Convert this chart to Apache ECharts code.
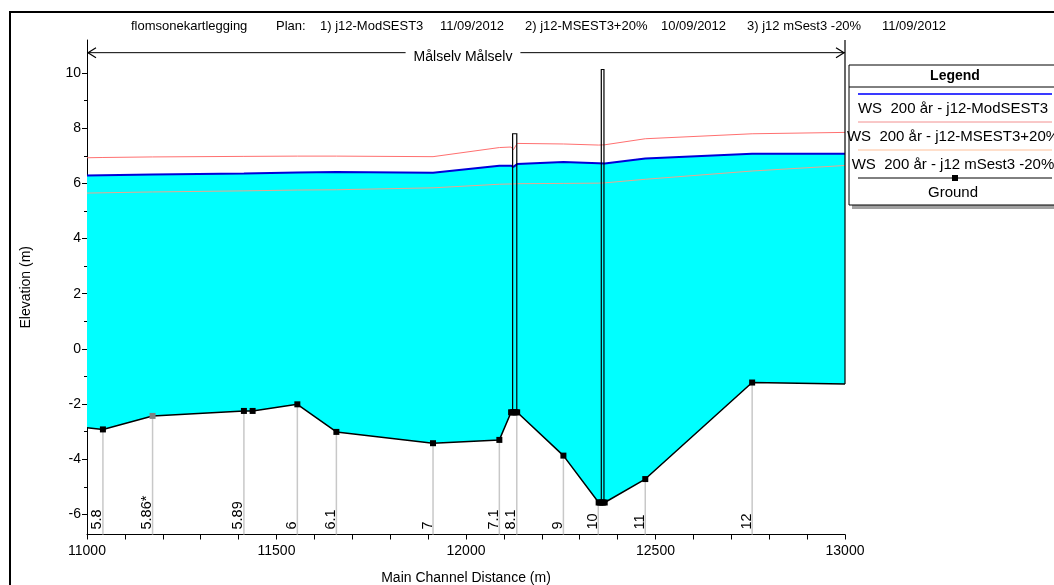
<!DOCTYPE html>
<html>
<head>
<meta charset="utf-8">
<script src="https://cdn.jsdelivr.net/npm/echarts@6/dist/echarts.min.js"></script>
<style>
  html, body { margin: 0; padding: 0; background: #fff; }
  #chart { width: 1054px; height: 585px; }
</style>
</head>
<body>
<div id="chart"></div>
<script>
// water surface, 200 yr, three plans (station m, elevation m)
const wsStation = [11000, 11042, 11173, 11414, 11555, 11658, 11913, 12088, 12119, 12125, 12135, 12257, 12350, 12366, 12473, 12755, 13000]
const wsBase = [6.29, 6.30, 6.32, 6.36, 6.40, 6.41, 6.39, 6.64, 6.64, 6.60, 6.70, 6.78, 6.73, 6.72, 6.90, 7.08, 7.08]
const wsPlus20 = [6.93, 6.94, 6.96, 6.98, 6.99, 6.99, 6.97, 7.30, 7.32, 7.22, 7.45, 7.43, 7.39, 7.40, 7.62, 7.80, 7.85]
const wsMinus20 = [5.65, 5.66, 5.69, 5.73, 5.76, 5.77, 5.84, 5.97, 5.98, 5.98, 5.99, 6.00, 6.01, 6.02, 6.15, 6.45, 6.65]

// channel bed
const groundStation = [11000, 11042, 11173, 11414, 11437, 11555, 11658, 11913, 12088, 12119, 12123, 12127, 12131, 12135, 12257, 12350, 12354, 12358, 12362, 12366, 12473, 12755, 13000]
const groundElev = [-2.86, -2.92, -2.43, -2.25, -2.25, -2.01, -3.01, -3.42, -3.30, -2.30, -2.30, -2.30, -2.30, -2.30, -3.87, -5.57, -5.57, -5.57, -5.57, -5.57, -4.72, -1.22, -1.27]

// cross sections
const sectionNames = ['5.8', '5.86*', '5.89', '6', '6.1', '7', '7.1', '8.1', '9', '10', '11', '12']
const sectionStations = [11042, 11173, 11414, 11555, 11658, 11913, 12088, 12134, 12257, 12349, 12473, 12755]

// bridges
const bridgeLeft = [12123, 12357]
const bridgeRight = [12134, 12364]
const bridgeLow = [-2.30, -5.57]
const bridgeTop = [7.8, 10.13]

// axis ticks
const yLabelValues = [-6, -4, -2, 0, 2, 4, 6, 8, 10]
const yMinorValues = [-5, -3, -1, 1, 3, 5, 7, 9]

const reachName = 'Målselv Målselv'
const reachElev = 10.74
const yMin = -6.73
const yMax = 11.2

const titleParts = ['flomsonekartlegging', 'Plan:', '1) j12-ModSEST3', '11/09/2012', '2) j12-MSEST3+20%', '10/09/2012', '3) j12 mSest3 -20%', '11/09/2012']
const titleLeft = [131, 276, 320, 440, 525, 661, 747, 882]

const legendItems = [
  { name: 'WS  200 år - j12-ModSEST3', color: '#3a3aff', width: 2 },
  { name: 'WS  200 år - j12-MSEST3+20%', color: '#f29090', width: 1 },
  { name: 'WS  200 år - j12 mSest3 -20%', color: '#ffbf98', width: 1 },
  { name: 'Ground', color: '#000', width: 1, marker: true }
]

const FONT = '"Liberation Sans", Arial, sans-serif'

const chart = echarts.init(document.getElementById('chart'))

function pairs(xs, ys) {
  return xs.map((x, i) => [x, ys[i]])
}

function renderFill(params, api) {
  const pts = []
  for (let i = 0; i < wsStation.length; i++) pts.push(api.coord([wsStation[i], wsBase[i]]))
  for (let i = groundStation.length - 1; i >= 0; i--) pts.push(api.coord([groundStation[i], groundElev[i]]))
  return { type: 'polygon', shape: { points: pts }, style: { fill: '#00ffff', stroke: null } }
}

function groundAt(st) {
  for (let i = 1; i < groundStation.length; i++) {
    if (st <= groundStation[i]) {
      const t = (st - groundStation[i - 1]) / (groundStation[i] - groundStation[i - 1])
      return groundElev[i - 1] + t * (groundElev[i] - groundElev[i - 1])
    }
  }
  return groundElev[groundElev.length - 1]
}

function renderSection(params, api) {
  const st = api.value(0)
  const top = api.coord([st, groundAt(st)])
  const bot = api.coord([st, yMin])
  return {
    type: 'group',
    children: [
      {
        type: 'line',
        shape: { x1: top[0], y1: top[1], x2: bot[0], y2: bot[1] },
        style: { stroke: '#c8c8c8', lineWidth: 1.5 }
      },
      {
        type: 'text',
        x: bot[0] + 2,
        y: bot[1] - 5,
        rotation: Math.PI / 2,
        style: {
          text: sectionNames[params.dataIndex],
          align: 'left',
          verticalAlign: 'bottom',
          font: '14.5px ' + FONT,
          fill: '#000'
        }
      }
    ]
  }
}

function renderBridge(params, api) {
  const i = params.dataIndex
  const a = api.coord([bridgeLeft[i], bridgeTop[i]])
  const b = api.coord([bridgeRight[i], bridgeLow[i]])
  return {
    type: 'polyline',
    shape: { points: [[a[0], b[1]], [a[0], a[1]], [b[0], a[1]], [b[0], b[1]]] },
    style: { stroke: '#000', lineWidth: 1.2, fill: null }
  }
}

function renderReach(params, api) {
  const l = api.coord([11000, reachElev])
  const r = api.coord([13000, reachElev])
  const top = api.coord([13000, yMax])
  const bot = api.coord([13000, groundElev[groundElev.length - 1]])
  const ah = 5
  return {
    type: 'group',
    children: [
      { type: 'line', shape: { x1: l[0], y1: l[1], x2: r[0], y2: r[1] }, style: { stroke: '#000', lineWidth: 1 } },
      { type: 'polyline', shape: { points: [[l[0] + 9, l[1] - ah], [l[0] + 1, l[1]], [l[0] + 9, l[1] + ah]] }, style: { stroke: '#000', lineWidth: 1.2, fill: null } },
      { type: 'polyline', shape: { points: [[r[0] - 9, r[1] - ah], [r[0] - 1, r[1]], [r[0] - 9, r[1] + ah]] }, style: { stroke: '#000', lineWidth: 1.2, fill: null } },
      { type: 'line', shape: { x1: top[0], y1: top[1], x2: bot[0], y2: bot[1] }, style: { stroke: '#000', lineWidth: 1.2 } },
      {
        type: 'text',
        x: (l[0] + r[0]) / 2 - 3,
        y: l[1] + 4,
        style: {
          text: reachName,
          align: 'center',
          verticalAlign: 'middle',
          font: '14px ' + FONT,
          fill: '#000',
          backgroundColor: '#fff',
          padding: [0, 8]
        }
      }
    ]
  }
}

const lastG = groundStation.length - 1
const groundData = groundStation.map((s, i) => {
  const k = sectionStations.indexOf(s)
  const interp = k >= 0 && sectionNames[k].indexOf('*') >= 0
  return {
    value: [s, groundElev[i]],
    symbol: i === 0 || i === lastG ? 'none' : 'rect',
    itemStyle: { color: interp ? '#808080' : '#000' }
  }
})

// legend box
const LX = 849, LY = 65, LW = 210
const legendGraphic = [
  { type: 'rect', shape: { x: LX + 3, y: LY + 3, width: LW, height: 141 }, style: { fill: '#a0a0a0' }, z: 100 },
  { type: 'rect', shape: { x: LX, y: LY, width: LW, height: 140 }, style: { fill: '#fff', stroke: '#000', lineWidth: 1 }, z: 101 },
  { type: 'line', shape: { x1: LX, y1: 87, x2: LX + LW, y2: 87 }, style: { stroke: '#000', lineWidth: 1 }, z: 102 },
  { type: 'text', x: 955, y: 76, style: { text: 'Legend', font: 'bold 14px ' + FONT, align: 'center', verticalAlign: 'middle', fill: '#000' }, z: 102 }
]
legendItems.forEach((it, i) => {
  const ly = 94 + i * 28
  legendGraphic.push({ type: 'line', shape: { x1: 858, y1: ly, x2: 1052, y2: ly }, style: { stroke: it.color, lineWidth: it.width }, z: 102 })
  if (it.marker) {
    legendGraphic.push({ type: 'rect', shape: { x: 952, y: ly - 3, width: 6, height: 6 }, style: { fill: '#000' }, z: 103 })
  }
  legendGraphic.push({ type: 'text', x: 953, y: ly + 15, style: { text: it.name, font: '15px ' + FONT, align: 'center', verticalAlign: 'middle', fill: '#000' }, z: 102 })
})

const titleGraphic = titleParts.map((t, i) => ({
  type: 'text',
  x: titleLeft[i],
  y: 26,
  style: { text: t, font: '13px ' + FONT, align: 'left', verticalAlign: 'middle', fill: '#000' },
  z: 90
}))

chart.setOption({
  animation: false,
  backgroundColor: '#fff',
  textStyle: { fontFamily: FONT },
  grid: { left: 87, right: 209, top: 40, bottom: 50.5, containLabel: false, outerBoundsMode: 'none' },
  graphic: [
    { type: 'rect', shape: { x: 10, y: 12, width: 1060, height: 600 }, style: { fill: null, stroke: '#000', lineWidth: 2 }, z: 90 }
  ].concat(titleGraphic, legendGraphic),
  xAxis: {
    type: 'value',
    min: 11000,
    max: 13000,
    interval: 500,
    name: 'Main Channel Distance (m)',
    nameLocation: 'middle',
    nameGap: 37,
    nameTextStyle: { fontSize: 14, color: '#000' },
    axisLine: { onZero: false, lineStyle: { color: '#000', width: 1 } },
    axisTick: { length: 5, lineStyle: { color: '#000' } },
    minorTick: { show: true, splitNumber: 5, length: 5, lineStyle: { color: '#000' } },
    axisLabel: { fontSize: 14, color: '#000', margin: 10, formatter: v => String(v) },
    splitLine: { show: false }
  },
  yAxis: [
    {
      type: 'value',
      min: yMin,
      max: yMax,
      name: 'Elevation (m)',
      nameLocation: 'middle',
      nameGap: 54,
      nameTextStyle: { fontSize: 14, color: '#000' },
      axisLine: { show: true, onZero: false, lineStyle: { color: '#000', width: 1 } },
      axisTick: { show: true, length: 5, customValues: yLabelValues, lineStyle: { color: '#000' } },
      axisLabel: { fontSize: 14, color: '#000', margin: 6, customValues: yLabelValues },
      splitLine: { show: false }
    },
    {
      type: 'value',
      min: yMin,
      max: yMax,
      position: 'left',
      axisLine: { show: false, onZero: false },
      axisTick: { show: true, length: 3, customValues: yMinorValues, lineStyle: { color: '#000' } },
      axisLabel: { show: false },
      splitLine: { show: false }
    }
  ],
  series: [
    {
      type: 'custom',
      renderItem: renderFill,
      data: [[11000, 0]],
      z: 1,
      silent: true
    },
    {
      type: 'custom',
      renderItem: renderSection,
      data: sectionStations.map(s => [s, 0]),
      z: 2,
      silent: true
    },
    {
      name: 'Ground',
      type: 'line',
      data: groundData,
      symbolSize: 6,
      lineStyle: { color: '#000', width: 1.5 },
      itemStyle: { color: '#000' },
      z: 4
    },
    {
      name: 'WS 200 år - j12 mSest3 -20%',
      type: 'line',
      data: pairs(wsStation, wsMinus20),
      symbol: 'none',
      lineStyle: { color: '#e8a890', width: 1 },
      z: 5
    },
    {
      name: 'WS 200 år - j12-MSEST3+20%',
      type: 'line',
      data: pairs(wsStation, wsPlus20),
      symbol: 'none',
      lineStyle: { color: '#ff7070', width: 1 },
      z: 5
    },
    {
      name: 'WS 200 år - j12-ModSEST3',
      type: 'line',
      data: pairs(wsStation, wsBase),
      symbol: 'none',
      lineStyle: { color: '#0000d8', width: 2 },
      z: 6
    },
    {
      type: 'custom',
      renderItem: renderBridge,
      data: bridgeLeft.map(s => [s, 0]),
      z: 7,
      silent: true
    },
    {
      type: 'custom',
      renderItem: renderReach,
      data: [[12000, reachElev]],
      z: 8,
      silent: true,
      clip: false
    }
  ]
})
</script>
</body>
</html>
